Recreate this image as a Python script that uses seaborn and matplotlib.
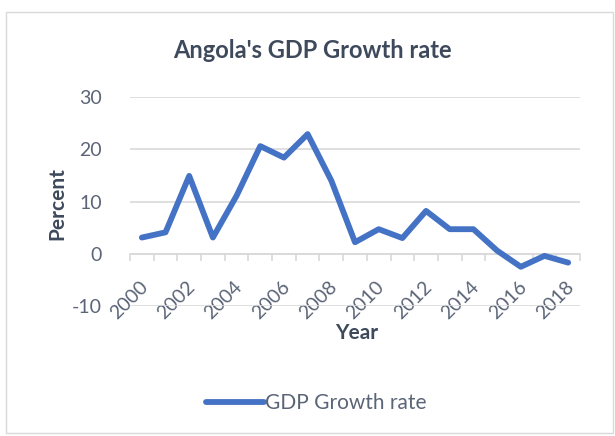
import matplotlib
matplotlib.use("Agg")
import matplotlib.pyplot as plt
import matplotlib.transforms as mtransforms
from matplotlib.patches import Rectangle
import numpy as np
import pandas as pd
import seaborn as sns

# Angola real GDP growth, percent per year
years = list(range(2000, 2019))
growth = [3.1, 4.1, 14.9, 3.1, 11.1, 20.6, 18.4, 22.9, 14.0, 2.2,
          4.7, 3.0, 8.2, 4.7, 4.7, 0.6, -2.5, -0.4, -1.7]
series_name = "GDP Growth rate"
y_ticks = [-10, 0, 10, 20, 30]
x_labels = list(range(2000, 2019, 2))

df = pd.DataFrame({"Year": years, series_name: growth})

sns.set_theme(style="white")
plt.rcParams["font.family"] = ["Lato", "DejaVu Sans"]
plt.rcParams["axes.unicode_minus"] = False

title_col = "#3E4A5C"
tick_col = "#5B6577"
grid_col = "#D9D9D9"
line_col = "#4472C4"

fig = plt.figure(figsize=(6.15, 4.36), dpi=100)
fig.patch.set_facecolor("white")
fig.patches.append(Rectangle((6 / 615, 3 / 436), 607 / 615, 421 / 436,
                             transform=fig.transFigure, fill=False,
                             edgecolor="#D9D9D9", linewidth=1.0, zorder=0))

ax = fig.add_axes([130 / 615, 1 - 306 / 436, 450 / 615, 209 / 436])

sns.lineplot(data=df, x="Year", y=series_name, ax=ax, color=line_col,
             linewidth=4.2, label=series_name, legend=False,
             solid_capstyle="round", solid_joinstyle="round", zorder=3)

ax.set_xlim(1999.5, 2018.5)
ax.set_ylim(-10, 30)
ax.set_yticks(y_ticks)
ax.yaxis.grid(True, color=grid_col, linewidth=1.2)
ax.xaxis.grid(False)

for side in ["top", "right", "left"]:
    ax.spines[side].set_visible(False)
ax.spines["bottom"].set_position(("data", 0))
ax.spines["bottom"].set_color(grid_col)
ax.spines["bottom"].set_linewidth(1.2)

ax.set_xticks(x_labels)
ax.set_xticks(np.arange(1999.5, 2019, 1.0), minor=True)
ax.tick_params(axis="x", which="major", bottom=True, length=0, pad=22,
               labelsize=14, labelcolor=tick_col)
ax.tick_params(axis="x", which="minor", bottom=True, length=5, width=1.2,
               color=grid_col, direction="out")
ax.tick_params(axis="y", length=0, pad=20, labelsize=14,
               labelcolor=tick_col)

# nudge the slanted year labels a little to the right of their ticks
shift = mtransforms.ScaledTranslation(0.03, 0, fig.dpi_scale_trans)
for lab in ax.get_xticklabels():
    lab.set_rotation(45)
    lab.set_rotation_mode("anchor")
    lab.set_ha("right")
    lab.set_va("center")
    lab.set_transform(lab.get_transform() + shift)

ax.set_xlabel("")
ax.set_ylabel("")
fig.text(357 / 615, 1 - 333 / 436, "Year", ha="center", va="center",
         fontsize=15, fontweight="bold", color=title_col)
fig.text(57 / 615, 1 - 204 / 436, "Percent", ha="center", va="center",
         rotation=90, fontsize=15, fontweight="bold", color=title_col)
fig.text(312 / 615, 1 - 51 / 436, "Angola's GDP Growth rate", ha="center",
         va="center", fontsize=17, fontweight="bold", color=title_col)

handles, labels = ax.get_legend_handles_labels()
fig.legend(handles, labels, loc="center", bbox_to_anchor=(316 / 615, 1 - 403 / 436),
           frameon=False, fontsize=15, handlelength=2.8, handletextpad=0.05,
           labelcolor=tick_col)

fig.savefig("out.png", dpi=100, facecolor="white")
